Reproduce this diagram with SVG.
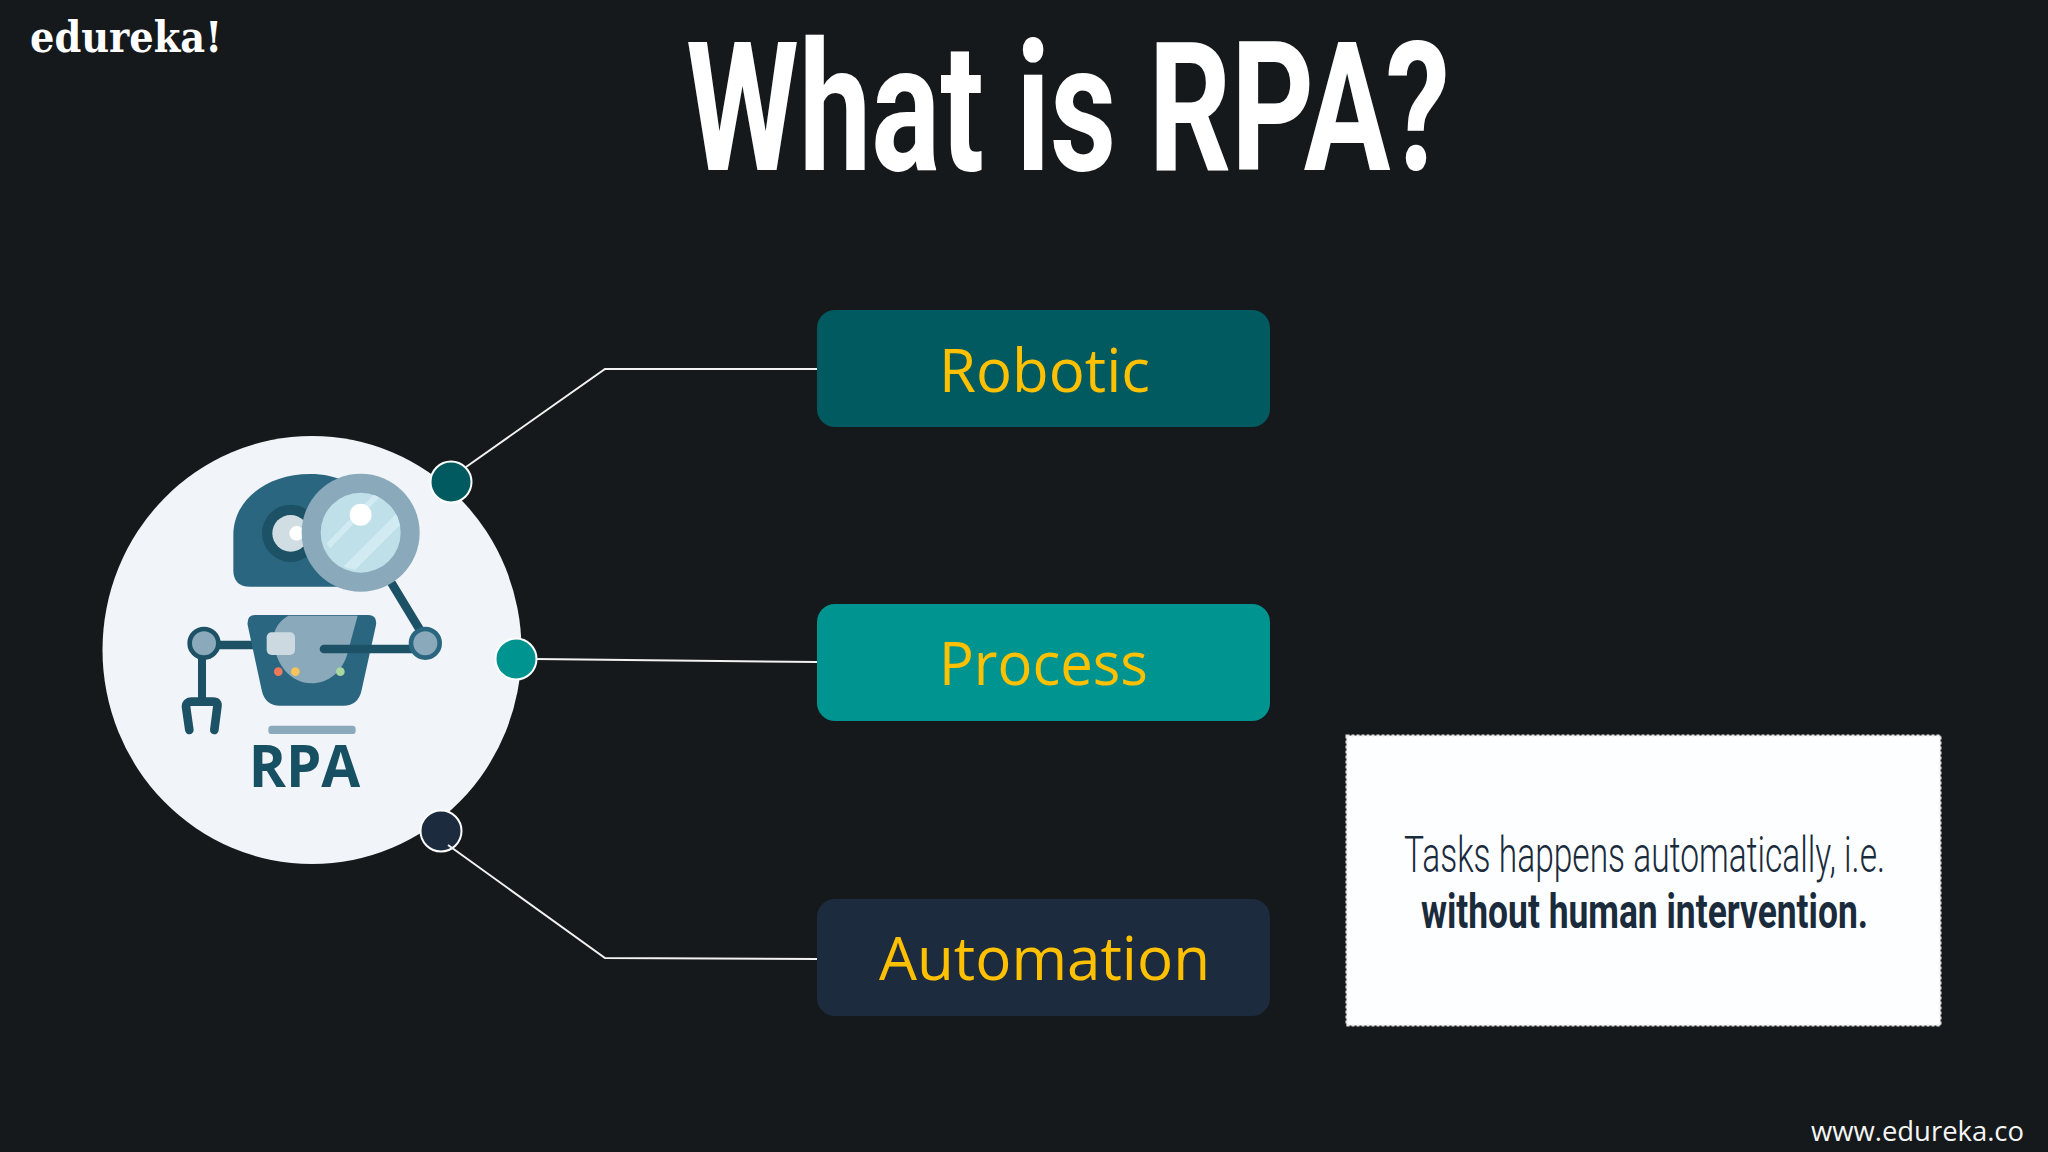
<svg xmlns="http://www.w3.org/2000/svg" width="2048" height="1152" viewBox="0 0 2048 1152">
<defs>
<style>
.box-label{font-family:"Open Sans","Noto Sans",sans-serif;font-size:61px;fill:#FFC000}
.dot{stroke:#fff;stroke-width:2}
.conn{fill:none;stroke:#f2f2f2;stroke-width:2}
.dk{stroke:#1d5166;stroke-linecap:round;fill:none}
</style>
<clipPath id="lens"><circle cx="842" cy="338" r="120"/></clipPath>
</defs>
<rect id="background" width="2048" height="1152" fill="#16191b"/>
<text id="logo" x="30" y="52" font-family="'DejaVu Serif',serif" font-weight="700" font-size="42" fill="#fff" textLength="192" lengthAdjust="spacingAndGlyphs">edureka!</text>
<text id="title" x="686" y="170" font-family="Roboto,sans-serif" font-weight="700" font-size="180" fill="#fff" textLength="764" lengthAdjust="spacingAndGlyphs">What is RPA?</text>
<g id="rpa-circle">
<ellipse cx="312" cy="650" rx="209.500" ry="214" fill="#f1f4f8"/>
<g transform="translate(80,420) scale(0.33333)">
<path d="M510,500Q460,500 460,450L460,345C460,240 560,162 690,162C780,162 860,200 880,300L880,500Z" fill="#2a6680"/>
<circle cx="632" cy="340" r="86" fill="#1d5166"/>
<circle cx="632" cy="340" r="55" fill="#d0dde3"/>
<circle cx="650" cy="340" r="22" fill="#fff"/>
<line class="dk" x1="935" y1="490" x2="1020" y2="630" stroke-width="26"/>
<circle cx="842" cy="338" r="177" fill="#8aa9ba"/>
<circle cx="842" cy="338" r="120" fill="#bfdfe9"/>
<g clip-path="url(#lens)" fill="#d2ebf2">
<polygon points="740,370 880,225 905,225 750,385"/>
<polygon points="790,440 960,270 960,315 825,450"/>
</g>
<circle cx="842" cy="284" r="33" fill="#fff"/>
<line class="dk" x1="420" y1="675" x2="530" y2="675" stroke-width="26"/>
<line class="dk" x1="366" y1="715" x2="366" y2="845" stroke-width="24"/>
<path class="dk" d="M328,930L318,860Q318,845 335,845L400,845Q415,845 412,860L403,930" stroke-width="26"/>
<circle cx="372" cy="670" r="43" fill="#8aa9ba" stroke="#1d5166" stroke-width="14"/>
<path d="M525,585H865Q892,585 888,615L845,810Q835,857 790,857H600Q555,857 545,810L503,615Q500,585 525,585Z" fill="#2a6680"/>
<path d="M625,587H833L805,690C790,760 740,790 695,790C630,790 585,730 580,660C578,630 600,600 625,587Z" fill="#8aa9ba"/>
<rect x="560" y="637" width="85" height="68" rx="15" fill="#ccd9e0"/>
<line class="dk" x1="732" y1="687" x2="1000" y2="687" stroke-width="26"/>
<circle cx="1036" cy="670" r="43" fill="#8aa9ba" stroke="#2a6680" stroke-width="14"/>
<circle cx="595" cy="755" r="13" fill="#f0785a"/>
<circle cx="646" cy="755" r="13" fill="#f5c35a"/>
<circle cx="781" cy="755" r="13" fill="#a8d8a0"/>
<rect x="565" y="917" width="262" height="25" rx="10" fill="#8aa9ba"/>
<text x="506" y="1100" font-family="'Open Sans','Noto Sans',sans-serif" font-weight="700" font-size="175" fill="#174f63" textLength="335" lengthAdjust="spacingAndGlyphs">RPA</text>
</g>
</g>
<g id="dot-robotic"><circle class="dot" cx="451" cy="482" r="20.500" fill="#015a60"/></g>
<g id="dot-process"><circle class="dot" cx="516" cy="659" r="20.500" fill="#009490"/></g>
<g id="dot-automation"><circle class="dot" cx="441" cy="831" r="20.500" fill="#1c2b3d"/></g>
<g id="connectors">
<polyline class="conn" points="466,467 605,369 817,369"/>
<polyline class="conn" points="536,659 817,662"/>
<polyline class="conn" points="448,845 605,958 817,959"/>
</g>
<g id="node-robotic">
<rect x="817" y="310" width="453" height="117" rx="18" fill="#015a60"/>
<text class="box-label" x="939" y="392" textLength="211" lengthAdjust="spacingAndGlyphs">Robotic</text>
</g>
<g id="node-process">
<rect x="817" y="604" width="453" height="117" rx="18" fill="#009490"/>
<text class="box-label" x="939" y="685" textLength="209" lengthAdjust="spacingAndGlyphs">Process</text>
</g>
<g id="node-automation">
<rect x="817" y="899" width="453" height="117" rx="18" fill="#1c2b3d"/>
<text class="box-label" x="879" y="980" textLength="331" lengthAdjust="spacingAndGlyphs">Automation</text>
</g>
<g id="note">
<rect x="1346.500" y="735.500" width="594" height="290" fill="#fdfeff" stroke="#e6e6e6" stroke-width="2" stroke-dasharray="3 2"/>
<text x="1404" y="872" font-family="Roboto,sans-serif" font-weight="300" font-size="50" fill="#1a2b3c" textLength="481" lengthAdjust="spacingAndGlyphs">Tasks happens automatically, i.e.</text>
<text x="1421" y="928" font-family="Roboto,sans-serif" font-weight="700" font-size="48" fill="#1a2b3c" textLength="447" lengthAdjust="spacingAndGlyphs">without human intervention.</text>
</g>
<text id="website" x="1811" y="1141" font-family="'Open Sans','Noto Sans',sans-serif" font-size="28" fill="#f5f5f5" textLength="213" lengthAdjust="spacingAndGlyphs">www.edureka.co</text>
</svg>
